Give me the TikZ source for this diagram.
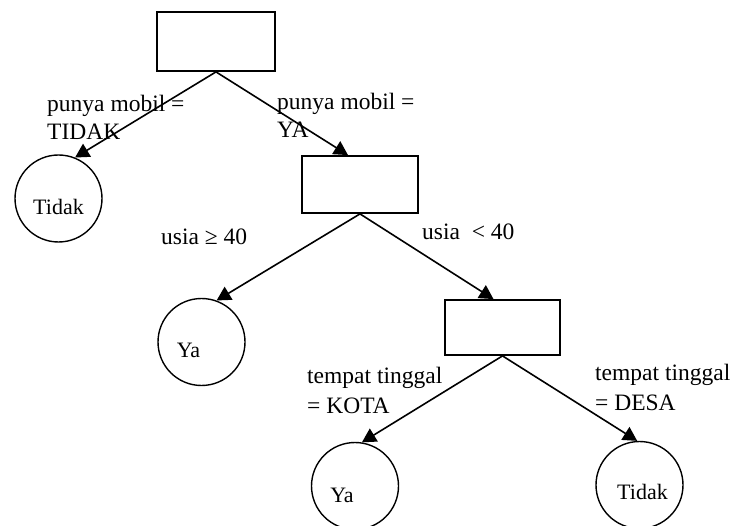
\documentclass[tikz,border=0pt]{standalone}
\usepackage{fontspec}
\setmainfont{Liberation Serif}
\usetikzlibrary{arrows.meta}

\begin{document}
\begin{tikzpicture}[x=1pt,y=-1pt,
    test/.style={draw,line width=1.8pt,rectangle,inner sep=0pt},
    leaf/.style={draw,line width=1.4pt,circle,inner sep=0pt,minimum size=87pt},
    leaftext/.style={font=\fontsize{22}{24}\selectfont},
    cond/.style={anchor=base west,align=left,inner sep=0pt,font=\fontsize{23.5}{28}\selectfont},
    branch/.style={line width=1.6pt,-{Triangle[length=14pt,width=15pt]}}]
  \useasboundingbox (0,0) rectangle (744,526);
  % tests
  \node[test,minimum width=118pt,minimum height=59pt] (r1) at (216,41.5) {};
  \node[test,minimum width=116pt,minimum height=57pt] (r2) at (360,184.5) {};
  \node[test,minimum width=115pt,minimum height=55pt] (r3) at (502.5,327.5) {};
  % leaves
  \node[leaf,label={[leaftext,yshift=-8pt]center:Tidak}] (t1) at (58.5,198.5) {};
  \node[leaf,label={[leaftext,xshift=-13pt,yshift=-8pt]center:Ya}] (y1) at (201.5,342) {};
  \node[leaf,label={[leaftext,xshift=-13pt,yshift=-9pt]center:Ya}] (y2) at (355,486) {};
  \node[leaf,label={[leaftext,xshift=3pt,yshift=-7pt]center:Tidak}] (t2) at (639.5,485) {};
  % branches
  \draw[branch] (r1.south) -- (t1.68);
  \draw[branch] (r1.south) -- ([xshift=-12pt]r2.north);
  \draw[branch] (r2.south) -- (y1.70);
  \draw[branch] (r2.south) -- ([xshift=-9pt]r3.north);
  \draw[branch] (r3.south) -- (y2.81);
  \draw[branch] (r3.south) -- (t2.93);
  % conditions
  \node[cond] (c1) at (47,140) {punya mobil =\\TIDAK};
  \node[cond] (c2) at (277,138) {punya mobil =\\YA};
  \node[cond] (c3) at (161,245) {usia ≥ 40};
  \node[cond] (c4) at (422,240) {usia\ \ < 40};
  \node[cond,font=\fontsize{23.5}{30}\selectfont] (c5) at (307,413) {tempat tinggal\\= KOTA};
  \node[cond,font=\fontsize{23.5}{30}\selectfont] (c6) at (595,410) {tempat tinggal\\= DESA};
\end{tikzpicture}
\end{document}
